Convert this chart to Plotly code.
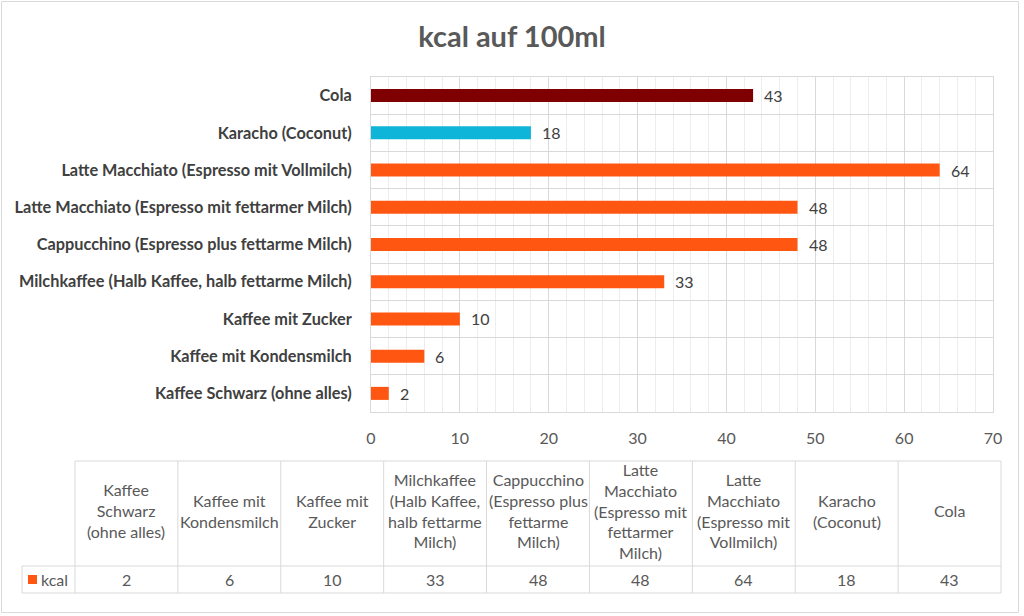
import plotly.graph_objects as go

categories = [
    "Kaffee Schwarz (ohne alles)",
    "Kaffee mit Kondensmilch",
    "Kaffee mit Zucker",
    "Milchkaffee (Halb Kaffee, halb fettarme Milch)",
    "Cappucchino (Espresso plus fettarme Milch)",
    "Latte Macchiato (Espresso mit fettarmer Milch)",
    "Latte Macchiato (Espresso mit Vollmilch)",
    "Karacho (Coconut)",
    "Cola",
]
table_headers = [
    "Kaffee<br>Schwarz<br>(ohne alles)",
    "Kaffee mit<br>Kondensmilch",
    "Kaffee mit<br>Zucker",
    "Milchkaffee<br>(Halb Kaffee,<br>halb fettarme<br>Milch)",
    "Cappucchino<br>(Espresso plus<br>fettarme<br>Milch)",
    "Latte<br>Macchiato<br>(Espresso mit<br>fettarmer<br>Milch)",
    "Latte<br>Macchiato<br>(Espresso mit<br>Vollmilch)",
    "Karacho<br>(Coconut)",
    "Cola",
]
kcal = [2, 6, 10, 33, 48, 48, 64, 18, 43]
series_name = "kcal"
x_ticks = [0, 10, 20, 30, 40, 50, 60, 70]

ORANGE = "#FF5612"
colors = [ORANGE] * 7 + ["#0FB5D9", "#7F0000"]

FONT = "Lato"
FS = 16

W, H = 1024, 616
L, R, T, B = 371, 31, 77, 204
PW, PH = W - L - R, H - T - B


def px(x):
    return (x - L) / PW


def py(y):
    return (H - B - y) / PH


fig = go.Figure()
fig.add_trace(go.Bar(
    y=categories, x=kcal, orientation="h",
    marker=dict(color=colors, line=dict(width=0)),
    width=0.35,
    showlegend=False, name=series_name, hoverinfo="skip",
))

shapes = []
annotations = []

# data labels at bar ends
for c, v in zip(categories, kcal):
    annotations.append(dict(xref="x", yref="y", x=v, y=c, text=str(v), showarrow=False,
                            xanchor="left", yanchor="middle", xshift=9,
                            font=dict(family=FONT, size=FS, color="#404040")))

# outer chart border
shapes.append(dict(type="rect", xref="paper", yref="paper",
                   x0=px(1.5), x1=px(1018.5), y0=py(1.5), y1=py(612.5),
                   line=dict(color="#D9D9D9", width=1), layer="below"))

# data table
grid = "#D9D9D9"
tx0, tx1 = 75, 1001
ty0, ty1, ty2 = 461, 566, 593
ncol = len(categories)
cw = (tx1 - tx0) / ncol


def hline(x0, x1, y):
    shapes.append(dict(type="line", xref="paper", yref="paper", x0=px(x0), x1=px(x1),
                       y0=py(y), y1=py(y), line=dict(color=grid, width=1)))


def vline(x, y0, y1):
    shapes.append(dict(type="line", xref="paper", yref="paper", x0=px(x), x1=px(x),
                       y0=py(y0), y1=py(y1), line=dict(color=grid, width=1)))


hline(tx0, tx1, ty0)
hline(22, tx1, ty1)
hline(22, tx1, ty2)
vline(22, ty1, ty2)
for i in range(ncol + 1):
    vline(tx0 + i * cw, ty0, ty2)

for i, (h, v) in enumerate(zip(table_headers, kcal)):
    cx = tx0 + (i + 0.5) * cw
    annotations.append(dict(xref="paper", yref="paper", x=px(cx), y=py((ty0 + ty1) / 2 - 3),
                            text=h, showarrow=False, xanchor="center", yanchor="middle",
                            font=dict(family=FONT, size=FS, color="#595959")))
    annotations.append(dict(xref="paper", yref="paper", x=px(cx), y=py((ty1 + ty2) / 2),
                            text=str(v), showarrow=False, xanchor="center", yanchor="middle",
                            font=dict(family=FONT, size=FS, color="#595959")))
# legend key
shapes.append(dict(type="rect", xref="paper", yref="paper", x0=px(28), x1=px(37), y0=py(575), y1=py(584),
                   fillcolor=ORANGE, line=dict(width=0)))
annotations.append(dict(xref="paper", yref="paper", x=px(39), y=py((ty1 + ty2) / 2), text=series_name,
                        showarrow=False, xanchor="left", yanchor="middle",
                        font=dict(family=FONT, size=FS, color="#595959")))

fig.update_layout(
    width=W, height=H,
    margin=dict(l=L, r=R, t=T, b=B),
    paper_bgcolor="white", plot_bgcolor="white",
    title=dict(text="<b>kcal auf 100ml</b>", x=0.5, xref="container", xanchor="center",
               y=1 - 37 / H, yanchor="middle",
               font=dict(family=FONT, size=29, color="#595959")),
    xaxis=dict(range=[0, 70], tickvals=x_ticks, showgrid=True, gridcolor="#D9D9D9", gridwidth=1,
               minor=dict(dtick=2, showgrid=True, gridcolor="#EDEDED", gridwidth=1),
               showline=True, linecolor="#D9D9D9", mirror=True, zeroline=False,
               ticks="", ticklabelstandoff=12, fixedrange=True,
               tickfont=dict(family=FONT, size=FS, color="#595959")),
    yaxis=dict(type="category", tickson="boundaries", showgrid=True, gridcolor="#D9D9D9",
               showline=True, linecolor="#D9D9D9", mirror=True, ticks="", ticklen=0,
               range=[-0.5, len(categories) - 0.5], ticklabelstandoff=15, fixedrange=True,
               tickfont=dict(family=FONT, size=16.3, color="#404040", weight="bold")),
    shapes=shapes, annotations=annotations,
)

fig.write_html("out.html", config={"displayModeBar": False},
               post_script="document.body.style.margin='0';")
